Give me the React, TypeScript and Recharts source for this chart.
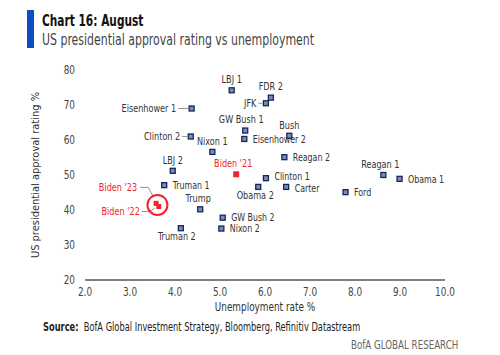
import React from "react";
import {
  ScatterChart,
  Scatter,
  XAxis,
  YAxis,
  ReferenceDot,
  Label,
} from "recharts";

const presidents = [
  "LBJ 1", "FDR 2", "JFK", "Eisenhower 1", "GW Bush 1", "Eisenhower 2", "Bush",
  "Clinton 2", "Nixon 1", "Reagan 2", "LBJ 2", "Biden '21", "Clinton 1", "Reagan 1",
  "Obama 1", "Truman 1", "Obama 2", "Carter", "Ford", "Trump", "GW Bush 2",
  "Nixon 2", "Truman 2", "Biden '23", "Biden '22",
];
const unemployment = [
  5.26, 6.13, 6.02, 4.37, 5.56, 5.54, 6.54,
  4.35, 4.83, 6.43, 3.95, 5.36, 6.02, 8.63,
  8.99, 3.76, 5.85, 6.47, 7.79, 4.56, 5.06,
  5.03, 4.13, 3.58, 3.64,
];
const approval = [
  74.2, 72.1, 70.5, 69.0, 62.7, 60.3, 61.2,
  61.0, 56.6, 55.1, 51.2, 50.2, 49.1, 50.0,
  48.9, 47.1, 46.6, 46.6, 45.1, 40.2, 37.8,
  34.7, 34.8, 41.9, 41.0,
];
const highlighted = ["Biden '23", "Biden '22"];
const xTicks = [2, 3, 4, 5, 6, 7, 8, 9, 10];
const yTicks = [20, 30, 40, 50, 60, 70, 80];

const points = presidents.map((name, i) => ({ name, x: unemployment[i], y: approval[i] }));
const hl = points.filter((p) => highlighted.includes(p.name));
const hlX = hl.reduce((s, p) => s + p.x, 0) / hl.length;
const hlY = hl.reduce((s, p) => s + p.y, 0) / hl.length;

const FONT = '"Liberation Sans Narrow", "DejaVu Sans Condensed", "Liberation Sans", sans-serif';
const NAVY = "#14265c";
const RED = "#f5222a";
const TEXT = "#333";
const SX = 0.86; // horizontal squeeze to mimic the condensed house font

// label placement relative to the marker
type Side = "right" | "top" | "bottom" | "leader" | "b23" | "b22";
const side: Record<string, Side> = {
  "LBJ 1": "top", "FDR 2": "top", JFK: "leader", "Eisenhower 1": "leader",
  "GW Bush 1": "top", "Eisenhower 2": "right", Bush: "top", "Clinton 2": "leader",
  "Nixon 1": "top", "Reagan 2": "right", "LBJ 2": "top", "Biden '21": "top",
  "Clinton 1": "right", "Reagan 1": "top", "Obama 1": "right", "Truman 1": "right",
  "Obama 2": "bottom", Carter: "right", Ford: "right", Trump: "top",
  "GW Bush 2": "right", "Nixon 2": "right", "Truman 2": "bottom",
  "Biden '23": "b23", "Biden '22": "b22",
};
const shift: Record<string, number> = {
  "GW Bush 1": -4, "Biden '21": -3, "Reagan 1": -3, Trump: -2, "Obama 2": -3, "Truman 2": -4,
};
const nudge: Record<string, number> = { "Clinton 1": -1.5, Carter: 1.5 };
const leaderLen: Record<string, number> = { "Eisenhower 1": 10, JFK: 4, "Clinton 2": 5 };

const SText = ({ x, y, anchor = "start", fill = TEXT, size = 10.5, children }: any) => (
  <text
    transform={`translate(${x} ${y}) scale(${SX} 1)`}
    textAnchor={anchor}
    dominantBaseline="central"
    style={{ fontFamily: FONT, fontSize: size, fill }}
  >
    {children}
  </text>
);

const Marker = (props: any) => {
  const { cx, cy, payload } = props;
  const name: string = payload.name;
  const isBiden = name.startsWith("Biden");
  const s = side[name];
  const fill = isBiden ? RED : TEXT;
  const dx = shift[name] || 0;
  const dy = nudge[name] || 0;
  let label: React.ReactNode = null;
  if (s === "right") {
    label = <SText x={cx + 8.5} y={cy + dy} fill={fill} size={10.2}>{name}</SText>;
  } else if (s === "top") {
    label = <SText x={cx + dx} y={cy - 11} anchor="middle" fill={fill}>{name}</SText>;
  } else if (s === "bottom") {
    label = <SText x={cx + dx} y={cy + 8.5} anchor="middle" fill={fill}>{name}</SText>;
  } else if (s === "leader") {
    const len = leaderLen[name] || 5;
    label = (
      <g>
        <line x1={cx - 3.5} x2={cx - 3.5 - len} y1={cy} y2={cy} stroke="#777" strokeWidth={0.8} />
        <SText x={cx - 5.5 - len} y={cy} anchor="end" fill={fill}>{name}</SText>
      </g>
    );
  } else if (s === "b23") {
    label = (
      <g>
        <polyline points={`${cx - 16},${cy - 16} ${cx - 8},${cy - 16} ${cx - 3},${cy - 7}`} fill="none" stroke="#777" strokeWidth={0.8} />
        <SText x={cx - 19} y={cy - 16} anchor="end" fill={fill}>{name}</SText>
      </g>
    );
  } else if (s === "b22") {
    label = (
      <g>
        <polyline points={`${cx - 17},${cy + 5} ${cx - 9},${cy + 5} ${cx - 4},${cy + 1.5}`} fill="none" stroke="#777" strokeWidth={0.8} />
        <SText x={cx - 19} y={cy + 5} anchor="end" fill={fill}>{name}</SText>
      </g>
    );
  }
  const size = name === "Biden '21" ? 6 : 5;
  return (
    <g>
      {isBiden ? (
        <rect x={cx - size / 2} y={cy - size / 2} width={size} height={size} fill={RED} />
      ) : (
        <rect x={cx - 2.5} y={cy - 2.5} width={5} height={5} fill="#7d8cb4" stroke={NAVY} strokeWidth={1.3} />
      )}
      {label}
    </g>
  );
};

const XTick = (props: any) => {
  const { x, y, payload } = props;
  return <SText x={x} y={y + 4} anchor="middle" fill="#444" size={11.5}>{payload.value.toFixed(1)}</SText>;
};

const YTick = (props: any) => {
  const { x, y, payload } = props;
  return <SText x={x} y={y} anchor="end" fill="#444" size={11.5}>{payload.value}</SText>;
};

const XLabel = (props: any) => {
  const { viewBox } = props;
  return (
    <SText x={viewBox.x + viewBox.width / 2} y={viewBox.y + 27} anchor="middle" size={11.5}>
      Unemployment rate %
    </SText>
  );
};

const YLabel = (props: any) => {
  const { viewBox } = props;
  const x = viewBox.x + 10;
  const y = viewBox.y + viewBox.height / 2;
  return (
    <text x={x} y={y} transform={`rotate(-90 ${x} ${y})`} textAnchor="middle" dominantBaseline="central"
      style={{ fontFamily: FONT, fontSize: 11, fill: TEXT }}>
      US presidential approval rating %
    </text>
  );
};

const squeeze = (k: number) => ({
  display: "inline-block",
  transform: `scaleX(${k})`,
  transformOrigin: "left",
  whiteSpace: "nowrap" as const,
});

export default function App() {
  return (
    <div style={{ position: "absolute", left: 0, top: 0, width: 500, height: 355, background: "#fff", fontFamily: FONT }}>
      <div style={{ position: "absolute", left: 27, top: 10, width: 7, height: 38, background: "#0a4fc4" }} />
      <div style={{ position: "absolute", left: 42, top: 12, fontSize: 15.5, fontWeight: "bold", color: "#111", lineHeight: "18px" }}>
        <span style={squeeze(0.76)}>Chart 16: August</span>
      </div>
      <div style={{ position: "absolute", left: 42, top: 31, fontSize: 16, color: "#444", lineHeight: "18px" }}>
        <span style={squeeze(0.76)}>US presidential approval rating vs unemployment</span>
      </div>
      <ScatterChart width={500} height={355} margin={{ top: 70, right: 55, bottom: 45, left: 25 }}>
        <XAxis
          type="number"
          dataKey="x"
          domain={[2, 10]}
          ticks={xTicks}
          axisLine={{ stroke: "#555", strokeWidth: 1.5 }}
          tickLine={false}
          height={30}
          tick={<XTick />}
        >
          <Label content={XLabel} />
        </XAxis>
        <YAxis
          type="number"
          dataKey="y"
          domain={[20, 80]}
          ticks={yTicks}
          axisLine={false}
          tickLine={false}
          width={60}
          tickMargin={4}
          tick={<YTick />}
        >
          <Label content={YLabel} />
        </YAxis>
        <Scatter data={points} shape={Marker} isAnimationActive={false} />
        <ReferenceDot x={hlX} y={hlY} r={10} fill="none" stroke={RED} strokeWidth={2} />
      </ScatterChart>
      <div style={{ position: "absolute", left: 43, top: 320, fontSize: 11.5, color: "#222", lineHeight: "14px" }}>
        <span style={squeeze(0.8)}>
          <b>Source:</b>&nbsp; BofA Global Investment Strategy, Bloomberg, Refinitiv Datastream
        </span>
      </div>
      <div style={{ position: "absolute", left: 351, top: 338, fontSize: 11.5, color: "#666", lineHeight: "14px" }}>
        <span style={squeeze(0.84)}>BofA GLOBAL RESEARCH</span>
      </div>
    </div>
  );
}
